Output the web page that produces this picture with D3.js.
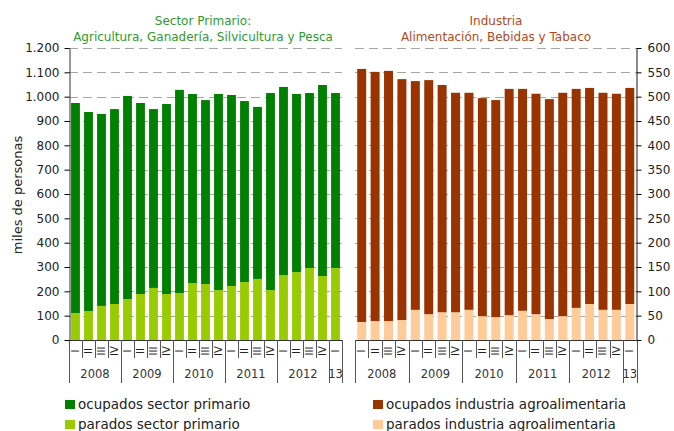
<!DOCTYPE html>
<html>
<head>
<meta charset="utf-8">
<script src="https://cdn.jsdelivr.net/npm/d3@7/dist/d3.min.js"></script>
<style>
  body { margin: 0; background: #fff; }
  svg text { font-family: "DejaVu Sans", Verdana, sans-serif; }
</style>
</head>
<body>
<div id="chart"></div>
<script>
// trimestres 2008 T1 .. 2013 T1
var quarters = ["I","II","III","IV","I","II","III","IV","I","II","III","IV",
                "I","II","III","IV","I","II","III","IV","I"];
var years = ["2008","2009","2010","2011","2012","13"];
var yearSpan = [4, 4, 4, 4, 4, 1];

// miles de personas
var ocupadosPrimario = [863,818,789,801,835,785,735,781,835,777,756,806,785,744,707,810,773,732,719,785,719];
var paradosPrimario  = [111,119,140,148,168,189,214,189,193,234,230,205,222,238,251,205,267,279,296,263,296];
var ocupadosIndustria = [520,512,514,495,470,481,467,451,446,448,446,465,456,453,452,459,450,444,446,444,444];
var paradosIndustria  = [37,39,39,41,62,53,57,57,62,49,47,51,60,53,43,49,66,74,62,62,74];

var ticksLeft = [0,100,200,300,400,500,600,700,800,900,1000,1100,1200];
var ticksRight = [0,50,100,150,200,250,300,350,400,450,500,550,600];

var W = 674, H = 431;
var yTop = 48, base = 340;

var es = d3.formatLocale({decimal: ",", thousands: ".", grouping: [3], currency: ["", " €"]});
var fmt = es.format(",d");

var svg = d3.select("#chart").append("svg")
    .attr("width", W)
    .attr("height", H);

var idx = d3.range(quarters.length);

var yL = d3.scaleLinear().domain([0, 1200]).range([base, yTop]);
var yR = d3.scaleLinear().domain([0, 600]).range([base, yTop]);

var panels = [
  { x0: 69, x1: 342, y: yL, ticks: ticksLeft, ocup: ocupadosPrimario, par: paradosPrimario,
    cOcup: "#008000", cPar: "#99cc00", pad: 0.32 },
  { x0: 355, x1: 636.5, y: yR, ticks: ticksRight, ocup: ocupadosIndustria, par: paradosIndustria,
    cOcup: "#993300", cPar: "#ffcc99", pad: 0.33 }
];

panels.forEach(function (p) {
  var x = d3.scaleBand().domain(idx).range([p.x0, p.x1]).paddingInner(p.pad).paddingOuter(p.pad / 2);
  var band = d3.scaleBand().domain(idx).range([p.x0, p.x1]);
  var g = svg.append("g");

  // grid
  g.selectAll(".grid")
    .data(p.ticks.slice(1))
    .enter().append("line")
    .attr("x1", p.x0).attr("x2", p.x1)
    .attr("y1", function (d) { return Math.round(p.y(d)) + 0.5; })
    .attr("y2", function (d) { return Math.round(p.y(d)) + 0.5; })
    .attr("stroke", "#a6a6a6")
    .attr("stroke-width", 1.2)
    .attr("stroke-dasharray", "9,5");

  // barras apiladas
  g.selectAll(".par")
    .data(idx)
    .enter().append("rect")
    .attr("x", function (i) { return x(i); })
    .attr("width", x.bandwidth())
    .attr("y", function (i) { return p.y(p.par[i]); })
    .attr("height", function (i) { return base - p.y(p.par[i]); })
    .attr("fill", p.cPar);

  g.selectAll(".ocup")
    .data(idx)
    .enter().append("rect")
    .attr("x", function (i) { return x(i); })
    .attr("width", x.bandwidth())
    .attr("y", function (i) { return p.y(p.par[i] + p.ocup[i]); })
    .attr("height", function (i) { return p.y(p.par[i]) - p.y(p.par[i] + p.ocup[i]); })
    .attr("fill", p.cOcup);

  // eje x
  g.append("line")
    .attr("x1", p.x0).attr("x2", p.x1)
    .attr("y1", base + 0.5).attr("y2", base + 0.5)
    .attr("stroke", "#333");

  // separadores de trimestre / año
  var cum = [0];
  yearSpan.forEach(function (s) { cum.push(cum[cum.length - 1] + s); });
  d3.range(quarters.length + 1).forEach(function (k) {
    var xx = k < quarters.length ? band(k) : p.x1;
    var isYear = cum.indexOf(k) >= 0;
    g.append("line")
      .attr("x1", Math.round(xx) + 0.5).attr("x2", Math.round(xx) + 0.5)
      .attr("y1", base).attr("y2", isYear ? 383 : 358)
      .attr("stroke", "#555");
  });

  g.selectAll(".q")
    .data(idx)
    .enter().append("text")
    .attr("transform", function (i) {
      return "translate(" + (band(i) + band.bandwidth() / 2 + 3.5) + "," + 351 + ") rotate(-90)";
    })
    .attr("text-anchor", "middle")
    .attr("font-size", 10)
    .attr("fill", "#222")
    .text(function (i) { return quarters[i]; });

  g.selectAll(".yr")
    .data(years)
    .enter().append("text")
    .attr("x", function (d, j) {
      var a = band(cum[j]);
      var b = cum[j + 1] < quarters.length ? band(cum[j + 1]) : p.x1;
      return (a + b) / 2;
    })
    .attr("y", 378)
    .attr("text-anchor", "middle")
    .attr("font-size", 11.5)
    .attr("fill", "#333")
    .text(function (d) { return d; });
});

// ejes y
svg.append("g")
  .attr("transform", "translate(69.5,0)")
  .call(d3.axisLeft(yL).tickValues(ticksLeft).tickFormat(fmt).tickSizeInner(5).tickSizeOuter(0).tickPadding(5))
  .call(function (a) {
    a.select(".domain").attr("stroke", "#333");
    a.selectAll("text").attr("font-size", 12).attr("fill", "#222")
      .style("font-family", '"DejaVu Sans", Verdana, sans-serif');
  });

svg.append("g")
  .attr("transform", "translate(636.5,0)")
  .call(d3.axisRight(yR).tickValues(ticksRight).tickSizeInner(5).tickSizeOuter(0).tickPadding(6))
  .call(function (a) {
    a.select(".domain").attr("stroke", "#666").attr("stroke-width", 1.5);
    a.selectAll("text").attr("font-size", 12).attr("fill", "#222")
      .style("font-family", '"DejaVu Sans", Verdana, sans-serif');
  });

svg.append("text")
  .attr("transform", "translate(22,195) rotate(-90)")
  .attr("text-anchor", "middle")
  .attr("font-size", 13)
  .attr("fill", "#222")
  .text("miles de personas");

// títulos de panel
var titles = [
  { x: 203, color: "#2e9a2e", lines: ["Sector Primario:", "Agricultura, Ganadería, Silvicultura y Pesca"] },
  { x: 496, color: "#b04a1e", lines: ["Industria", "Alimentación, Bebidas y Tabaco"] }
];
titles.forEach(function (t) {
  t.lines.forEach(function (l, j) {
    svg.append("text")
      .attr("x", t.x).attr("y", 25 + j * 15.5)
      .attr("text-anchor", "middle")
      .attr("font-size", 12)
      .attr("fill", t.color)
      .text(l);
  });
});

// leyenda
var legend = [
  { x: 65, y: 400, color: "#008000", label: "ocupados sector primario" },
  { x: 65, y: 420, color: "#99cc00", label: "parados sector primario" },
  { x: 373, y: 400, color: "#993300", label: "ocupados industria agroalimentaria" },
  { x: 373, y: 420, color: "#ffcc99", label: "parados industria agroalimentaria" }
];
var lg = svg.selectAll(".lg").data(legend).enter().append("g");
lg.append("rect")
  .attr("x", function (d) { return d.x; })
  .attr("y", function (d) { return d.y; })
  .attr("width", 10).attr("height", 9)
  .attr("fill", function (d) { return d.color; });
lg.append("text")
  .attr("x", function (d) { return d.x + 13; })
  .attr("y", function (d) { return d.y + 9; })
  .attr("font-size", 13.5)
  .attr("fill", "#222")
  .text(function (d) { return d.label; });
</script>
</body>
</html>
